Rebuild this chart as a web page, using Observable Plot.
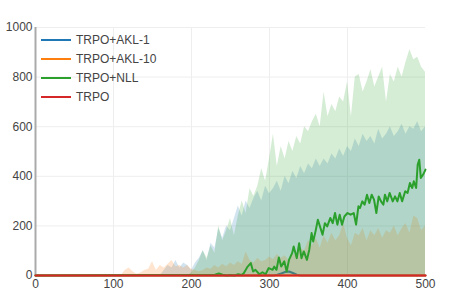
<!DOCTYPE html>
<html><head><meta charset="utf-8">
<script src="https://cdn.jsdelivr.net/npm/d3@7"></script>
<script src="https://cdn.jsdelivr.net/npm/@observablehq/plot@0.6"></script>
<style>
body{margin:0;background:#fff;}
#wrap{position:relative;width:450px;height:300px;font-family:"Liberation Sans",Arial,sans-serif;}
#legend{position:absolute;left:41px;top:30px;font-size:12px;color:#444;}
.row{display:flex;align-items:center;height:19px;white-space:nowrap;}
.sw{width:30px;height:0;border-top:2px solid;margin-right:5px;}
</style></head>
<body><div id="wrap"><div id="legend"></div></div>
<script>
// Iterations (x grid of the bands)
const steps = [100,105,110,115,120,125,130,135,140,145,150,155,160,165,170,175,180,185,190,195,
200,205,210,215,220,225,230,235,240,245,250,255,260,265,270,275,280,285,290,295,
300,305,310,315,320,325,330,335,340,345,350,355,360,365,370,375,380,385,390,395,
400,405,410,415,420,425,430,435,440,445,450,455,460,465,470,475,480,485,490,495,500];

// Upper edge of the TRPO+NLL band (green)
const nllUpper = [0,0,0,0,0,0,0,0,0,0,0,0,0,0,0,0,0,0,0,0,
10,30,60,100,70,120,90,200,140,180,230,160,240,300,250,350,320,360,430,380,
470,570,440,520,470,540,500,560,530,600,580,620,650,600,740,640,690,660,720,700,
780,640,800,810,740,780,830,760,800,840,700,810,780,840,800,860,910,870,880,840,820];

// Upper edge of the TRPO+AKL-1 band (blue)
const akl1Upper = [0,0,0,0,0,0,0,0,0,0,0,0,0,20,40,30,60,30,50,40,
20,50,70,100,60,130,110,190,150,200,180,230,280,240,300,270,310,340,300,360,
330,350,380,340,400,370,420,390,440,410,450,430,470,440,470,450,490,470,510,480,
520,500,550,520,570,540,560,530,590,550,570,600,560,580,610,570,600,590,620,580,600];

// Upper edge of the TRPO+AKL-10 band (orange)
const akl10Upper = [0,0,0,20,30,15,5,10,20,25,55,20,40,30,45,60,35,40,30,40,
25,20,15,20,30,25,40,30,45,35,50,40,55,45,95,60,50,70,55,60,
75,65,85,70,80,60,90,75,110,100,140,120,150,110,160,130,170,140,160,210,
150,120,170,160,190,140,180,160,190,150,180,170,200,160,190,210,170,240,230,180,200];

// Mean return of TRPO+NLL (green line)
const nllX = [0,230,235,240,245,250,255,260,264,267,272,276,279,282,287,291,295,299,304,306,309,312,315,319,322,325,329,331,335,338,341,344,348,351,354,356,359,362,366,368,371,374,378,381,384,387,390,393,396,400,404,408,411,414,416,419,422,425,428,431,434,437,440,443,446,448,451,454,458,461,464,467,470,474,477,480,483,485,488,490,492,494,497,500];
const nllMean = [0,3,8,3,0,2,0,5,2,9,36,50,16,23,5,13,5,30,23,36,23,73,36,57,16,63,90,117,70,130,70,97,63,104,171,137,178,225,185,164,211,198,232,211,252,205,245,205,238,252,245,252,205,279,272,299,286,326,292,326,306,252,319,299,286,326,299,333,299,319,299,333,299,340,333,373,353,380,353,447,467,393,407,427];

// Mean return of TRPO+AKL-1 (blue line)
const akl1X = [0,300,305,310,315,320,325,330,335,340,500];
const akl1Mean = [0,0,0,3,8,14,16,10,3,0,0];

// Mean return of TRPO+AKL-10 (orange line)
const akl10X = [0,500];
const akl10Mean = [0,0];

// Mean return of TRPO (red line)
const trpoX = [0,500];
const trpoMean = [0,0];

const xTicks = [0,100,200,300,400,500];
const yTicks = [0,200,400,600,800,1000];

const series = ["TRPO+AKL-1","TRPO+AKL-10","TRPO+NLL","TRPO"];
const colors = ["#1f77b4","#ff7f0e","#2ca02c","#d62728"];

const bands = steps.map((x,i)=>({x, nll:nllUpper[i], a1:akl1Upper[i], a10:akl10Upper[i]}));
const nllLine = nllX.map((x,i)=>({x, y:nllMean[i]}));
const a1Line = akl1X.map((x,i)=>({x, y:akl1Mean[i]}));
const a10Line = akl10X.map((x,i)=>({x, y:akl10Mean[i]}));
const trpoLine = trpoX.map((x,i)=>({x, y:trpoMean[i]}));

const chart = Plot.plot({
  width:450, height:300,
  marginLeft:35, marginRight:25, marginTop:27, marginBottom:25,
  style:{fontFamily:'"Liberation Sans", Arial, sans-serif', fontSize:"12px", color:"#444", background:"#fff", overflow:"visible"},
  x:{domain:[0,500], ticks:xTicks, tickFormat:d=>String(d), tickSize:0, tickPadding:4, label:null},
  y:{domain:[0,1000], ticks:yTicks, tickFormat:d=>String(d), tickSize:0, tickPadding:3, label:null},
  marks:[
    Plot.ruleY(yTicks.filter(v=>v>0), {stroke:"#eee", strokeWidth:1}),
    Plot.ruleX(xTicks.filter(v=>v>0 && v<500), {stroke:"#eee", strokeWidth:1}),
    Plot.areaY(bands, {x:"x", y1:0, y2:"a1", fill:colors[0], fillOpacity:0.2}),
    Plot.line(a1Line, {x:"x", y:"y", stroke:colors[0], strokeWidth:2}),
    Plot.areaY(bands, {x:"x", y1:0, y2:"a10", fill:colors[1], fillOpacity:0.2}),
    Plot.line(a10Line, {x:"x", y:"y", stroke:colors[1], strokeWidth:2}),
    Plot.areaY(bands, {x:"x", y1:0, y2:"nll", fill:colors[2], fillOpacity:0.2}),
    Plot.ruleX([0], {stroke:"#aaa", strokeWidth:2}),
    Plot.line(nllLine, {x:"x", y:"y", stroke:colors[2], strokeWidth:2}),
    Plot.line(trpoLine, {x:"x", y:"y", stroke:colors[3], strokeWidth:2})
  ]
});
document.getElementById("wrap").prepend(chart);

const lg = document.getElementById("legend");
series.forEach((s,i)=>{
  const r = document.createElement("div"); r.className="row";
  const sw = document.createElement("div"); sw.className="sw"; sw.style.borderTopColor=colors[i];
  const t = document.createElement("span"); t.textContent=s;
  r.appendChild(sw); r.appendChild(t); lg.appendChild(r);
});
</script>
</body></html>
